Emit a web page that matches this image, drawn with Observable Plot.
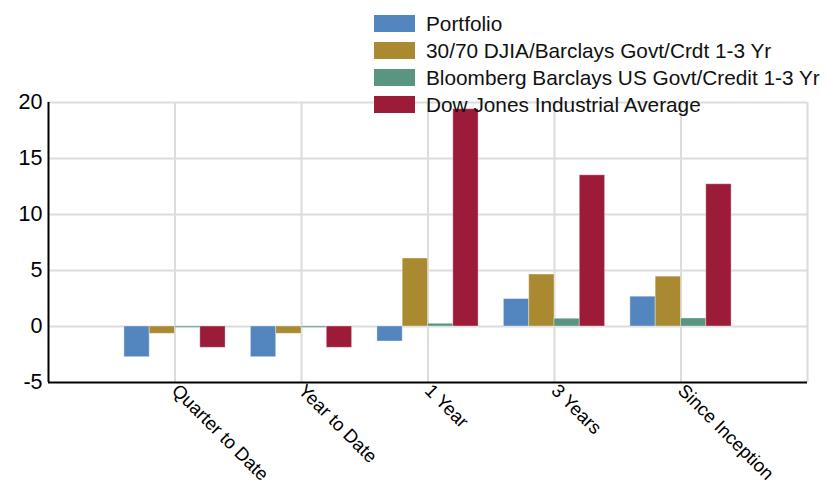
<!DOCTYPE html>
<html>
<head>
<meta charset="utf-8">
<script src="https://cdn.jsdelivr.net/npm/d3@7"></script>
<script src="https://cdn.jsdelivr.net/npm/@observablehq/plot@0.6"></script>
<style>
  html, body { margin: 0; padding: 0; background: #fff; }
  #wrap { position: relative; width: 828px; height: 480px; font-family: "Liberation Sans", Arial, sans-serif; }
  #legend { position: absolute; left: 374px; top: 10px; }
  .row { display: flex; align-items: center; height: 27px; font-size: 20.8px; color: #111; }
  .sw { width: 41px; height: 17px; margin-right: 11px; }
</style>
</head>
<body>
<div id="wrap"><div id="chart"></div><div id="legend"></div></div>
<script>
const categories = ["Quarter to Date", "Year to Date", "1 Year", "3 Years", "Since Inception"];
const series = ["Portfolio", "30/70 DJIA/Barclays Govt/Crdt 1-3 Yr", "Bloomberg Barclays US Govt/Credit 1-3 Yr", "Dow Jones Industrial Average"];
const colors = ["#5386be", "#a98a31", "#5a9582", "#9c1b38"];
const portfolio = [-2.74, -2.74, -1.34, 2.45, 2.66];
const blended = [-0.65, -0.65, 6.07, 4.64, 4.45];
const bloomberg = [-0.12, -0.12, 0.24, 0.69, 0.72];
const djia = [-1.9, -1.9, 19.4, 13.5, 12.7];
const yTicks = [-5, 0, 5, 10, 15, 20];

const values = [portfolio, blended, bloomberg, djia];
const data = [];
categories.forEach((c, ci) => {
  series.forEach((s, si) => {
    data.push({category: c, ci, series: s, si, value: values[si][ci]});
  });
});
const barW = 0.2;

const chart = Plot.plot({
  width: 828,
  height: 480,
  marginLeft: 48,
  marginRight: 21,
  marginTop: 102,
  marginBottom: 98,
  style: {fontFamily: "'Liberation Sans', Arial, sans-serif", color: "#000", background: "#fff"},
  x: {type: "linear", domain: [0, categories.length + 1]},
  y: {domain: [-5, 20]},
  color: {domain: series, range: colors},
  marks: [
    Plot.ruleY(yTicks.filter(d => d > -5), {stroke: "#dcdcdc", strokeWidth: 2}),
    Plot.ruleX(d3.range(1, categories.length + 2), {y1: -5, y2: 20, stroke: "#dcdcdc", strokeWidth: 2}),
    Plot.rectY(data, {
      x1: d => d.ci + 1 + (d.si - series.length / 2) * barW,
      x2: d => d.ci + 1 + (d.si - series.length / 2 + 1) * barW,
      y1: 0,
      y2: "value",
      fill: "series",
      stroke: "#fff",
      strokeOpacity: 0.35,
      strokeWidth: 1
    }),
    Plot.ruleY([-5], {stroke: "#000", strokeWidth: 2}),
    Plot.ruleX([0], {y1: -5, y2: 20, stroke: "#000", strokeWidth: 2}),
    Plot.axisY({ticks: yTicks, tickSize: 0, tickPadding: 6, fontSize: 21.5, tickFormat: d => d, label: null}),
    Plot.axisX({
      ticks: d3.range(1, categories.length + 1),
      tickFormat: i => categories[i - 1],
      tickRotate: 45,
      tickSize: 0,
      tickPadding: 5,
      fontSize: 18.5,
      label: null
    })
  ]
});
document.getElementById("chart").appendChild(chart);

const legend = document.getElementById("legend");
series.forEach((s, i) => {
  const row = document.createElement("div");
  row.className = "row";
  const sw = document.createElement("div");
  sw.className = "sw";
  sw.style.background = colors[i];
  const t = document.createElement("span");
  t.textContent = s;
  row.appendChild(sw);
  row.appendChild(t);
  legend.appendChild(row);
});
</script>
</body>
</html>
